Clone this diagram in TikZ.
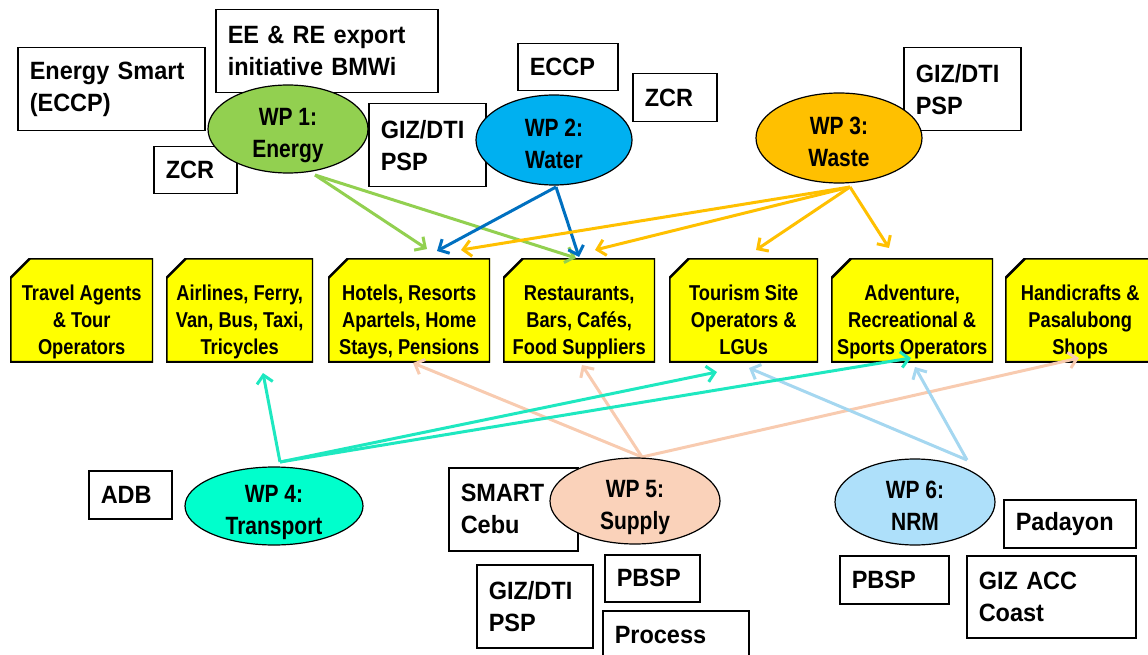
\documentclass[tikz,border=0pt]{standalone}
\usepackage{fontspec}
\setmainfont{Liberation Sans}
\newfontfamily\partnerfont[FakeStretch=0.94]{Liberation Sans}
\newfontfamily\wpfont[FakeStretch=0.84]{Liberation Sans}
\newfontfamily\sectorfont[FakeStretch=0.85]{Liberation Sans}
\usetikzlibrary{shapes.geometric,arrows.meta,calc}

\newlength{\du}
\setlength{\du}{1pt}
\newcommand{\secpad}{\rule{0pt}{40pt}}
\newcommand{\secend}{\rule[-6pt]{0pt}{6pt}}
\newcommand{\wptop}{\rule{0pt}{32pt}}
\newcommand{\wpbot}{\rule[-7pt]{0pt}{7pt}}

\definecolor{energygreen}{RGB}{146,208,80}
\definecolor{waterblue}{RGB}{0,176,240}
\definecolor{waterline}{RGB}{0,112,192}
\definecolor{wastegold}{RGB}{255,192,0}
\definecolor{transportaqua}{RGB}{0,255,204}
\definecolor{transportline}{RGB}{30,232,192}
\definecolor{supplypeach}{RGB}{250,210,186}
\definecolor{supplyline}{RGB}{248,203,176}
\definecolor{nrmblue}{RGB}{174,224,250}
\definecolor{nrmline}{RGB}{165,215,240}
\definecolor{sectoryellow}{RGB}{255,255,0}

\tikzset{
  partner/.style={draw=black, line width=1.5\du, fill=white, anchor=north west,
    align=left, inner xsep=12\du, inner ysep=0\du,
    font=\partnerfont\bfseries\fontsize{25}{32}\selectfont},
  wp/.style={ellipse, draw=black, line width=1.2\du, inner xsep=0\du, inner ysep=-12\du,
    align=center, font=\wpfont\bfseries\fontsize{25}{32}\selectfont},
  sector/.style={rectangle, anchor=north west, inner sep=0\du, align=center,
    minimum height=104\du,
    font=\sectorfont\bfseries\fontsize{21.5}{27}\selectfont,
    path picture={
      \filldraw[fill=sectoryellow, draw=black, line width=2.6pt]
        ($(path picture bounding box.north west)!20pt!(path picture bounding box.south west)$)
        -- ($(path picture bounding box.north west)!20pt!(path picture bounding box.north east)$)
        -- (path picture bounding box.north east) -- (path picture bounding box.south east)
        -- (path picture bounding box.south west) -- cycle;
    }},
  link/.style={line width=3\du, -{Straight Barb[length=8pt,width=16pt]}},
}

\begin{document}
\begin{tikzpicture}
\pgftransformxscale{1.000000}
\pgftransformyscale{-1.000000}
\useasboundingbox (0\du,0\du) rectangle (1148\du,655\du);
\clip (0\du,0\du) rectangle (1148\du,655\du);

% partners of the work packages
\node[partner, minimum width=187\du, minimum height=83\du, text width=163\du] (esmart) at (17\du,47\du) {Energy Smart\\(ECCP)};
\node[partner, minimum width=222\du, minimum height=83\du, text width=198\du] (bmwi) at (215\du,9\du) {EE \& RE export\\initiative BMWi};
\node[partner, minimum width=83\du, minimum height=47\du, text width=59\du] (zcrA) at (153\du,146\du) {ZCR};
\node[partner, minimum width=117\du, minimum height=83\du, text width=93\du] (pspA) at (368\du,103\du) {GIZ/DTI\\PSP};
\node[partner, minimum width=100\du, minimum height=47\du, text width=76\du] (eccp) at (517\du,43\du) {ECCP};
\node[partner, minimum width=84\du, minimum height=48\du, text width=60\du] (zcrB) at (632\du,73\du) {ZCR};
\node[partner, minimum width=117\du, minimum height=83\du, text width=93\du] (pspB) at (903\du,47\du) {GIZ/DTI\\PSP};
\node[partner, minimum width=83\du, minimum height=48\du, text width=59\du] (adb) at (88\du,470\du) {ADB};
\node[partner, minimum width=129\du, minimum height=83\du, text width=105\du] (smart) at (448\du,467\du) {SMART\\Cebu};
\node[partner, minimum width=116\du, minimum height=83\du, text width=92\du] (pspC) at (476\du,564\du) {GIZ/DTI\\PSP};
\node[partner, minimum width=95\du, minimum height=47\du, text width=71\du] (pbspA) at (604\du,554\du) {PBSP};
\node[partner, minimum width=146\du, minimum height=48\du, text width=122\du] (process) at (602\du,610\du) {Process};
\node[partner, minimum width=109\du, minimum height=48\du, text width=85\du] (pbspB) at (839\du,555\du) {PBSP};
\node[partner, minimum width=132\du, minimum height=48\du, text width=108\du] (padayon) at (1003\du,499\du) {Padayon};
\node[partner, minimum width=169\du, minimum height=82\du, text width=145\du] (coast) at (966\du,555\du) {GIZ ACC\\Coast};

% tourism sectors
\node[sector, minimum width=143\du] (travel) at (10\du,258\du) {\secpad Travel Agents\\\& Tour\\Operators\secend};
\node[sector, minimum width=147\du] (airlines) at (166\du,258\du) {\secpad Airlines, Ferry,\\Van, Bus, Taxi,\\Tricycles\secend};
\node[sector, minimum width=162\du] (hotels) at (328\du,258\du) {\secpad Hotels, Resorts\\Apartels, Home\\Stays, Pensions\secend};
\node[sector, minimum width=152\du] (restaurants) at (503\du,258\du) {\secpad Restaurants,\\Bars, Cafés,\\Food Suppliers\secend};
\node[sector, minimum width=149\du] (tourism) at (669\du,258\du) {\secpad Tourism Site\\Operators \&\\LGUs\secend};
\node[sector, minimum width=162\du] (adventure) at (831\du,258\du) {\secpad Adventure,\\Recreational \&\\Sports Operators\secend};
\node[sector, minimum width=150\du] (handicrafts) at (1005\du,258\du) {\secpad Handicrafts \&\\Pasalubong\\Shops\secend};

% arrow ends
\coordinate (wp1out) at (315\du,175\du);
\coordinate (wp2out) at (556\du,187\du);
\coordinate (wp3out) at (850\du,187\du);
\coordinate (wp4out) at (280\du,462\du);
\coordinate (wp5out) at (642\du,457\du);
\coordinate (wp6out) at (967\du,460\du);
\coordinate (hotelsE) at (427\du,249\du);
\coordinate (restE) at (576\du,258\du);
\coordinate (hotelsW) at (437\du,251\du);
\coordinate (restW) at (579\du,257\du);
\coordinate (hotelsS) at (461\du,250\du);
\coordinate (restS) at (595\du,250\du);
\coordinate (tourismS) at (756\du,250\du);
\coordinate (adventureS) at (889\du,248\du);
\coordinate (airlinesT) at (263\du,373\du);
\coordinate (tourismT) at (717\du,372\du);
\coordinate (adventureT) at (911\du,358\du);
\coordinate (hotelsP) at (413\du,363\du);
\coordinate (restP) at (582\du,365\du);
\coordinate (handicraftsP) at (1079\du,358\du);
\coordinate (tourismN) at (749\du,368\du);
\coordinate (adventureN) at (915\du,367\du);

\draw[link, draw=energygreen] (wp1out) -- (hotelsE);
\draw[link, draw=energygreen] (wp1out) -- (restE);
\draw[link, draw=waterline] (wp2out) -- (hotelsW);
\draw[link, draw=waterline] (wp2out) -- (restW);
\draw[link, draw=wastegold] (wp3out) -- (hotelsS);
\draw[link, draw=wastegold] (wp3out) -- (restS);
\draw[link, draw=wastegold] (wp3out) -- (tourismS);
\draw[link, draw=wastegold] (wp3out) -- (adventureS);
\draw[link, draw=supplyline] (wp5out) -- (hotelsP);
\draw[link, draw=supplyline] (wp5out) -- (restP);
\draw[link, draw=supplyline] (wp5out) -- (handicraftsP);
\draw[link, draw=nrmline] (wp6out) -- (tourismN);
\draw[link, draw=nrmline] (wp6out) -- (adventureN);
\draw[link, draw=transportline] (wp4out) -- (airlinesT);
\draw[link, draw=transportline] (wp4out) -- (tourismT);
\draw[link, draw=transportline] (wp4out) -- (adventureT);

% work packages
\node[wp, fill=energygreen, minimum width=160\du, minimum height=88\du] (wp1) at (288\du,129\du) {\wptop WP 1:\\Energy\wpbot};
\node[wp, fill=waterblue, minimum width=156\du, minimum height=90\du] (wp2) at (554\du,140\du) {\wptop WP 2:\\Water\wpbot};
\node[wp, fill=wastegold, minimum width=166\du, minimum height=90\du] (wp3) at (839\du,138\du) {\wptop WP 3:\\Waste\wpbot};
\node[wp, fill=transportaqua, minimum width=178\du, minimum height=78\du] (wp4) at (274\du,506\du) {\wptop WP 4:\\Transport\wpbot};
\node[wp, fill=supplypeach, minimum width=170\du, minimum height=86\du] (wp5) at (635\du,501\du) {\wptop WP 5:\\Supply\wpbot};
\node[wp, fill=nrmblue, minimum width=160\du, minimum height=86\du] (wp6) at (915\du,502\du) {\wptop WP 6:\\NRM\wpbot};
\end{tikzpicture}
\end{document}
